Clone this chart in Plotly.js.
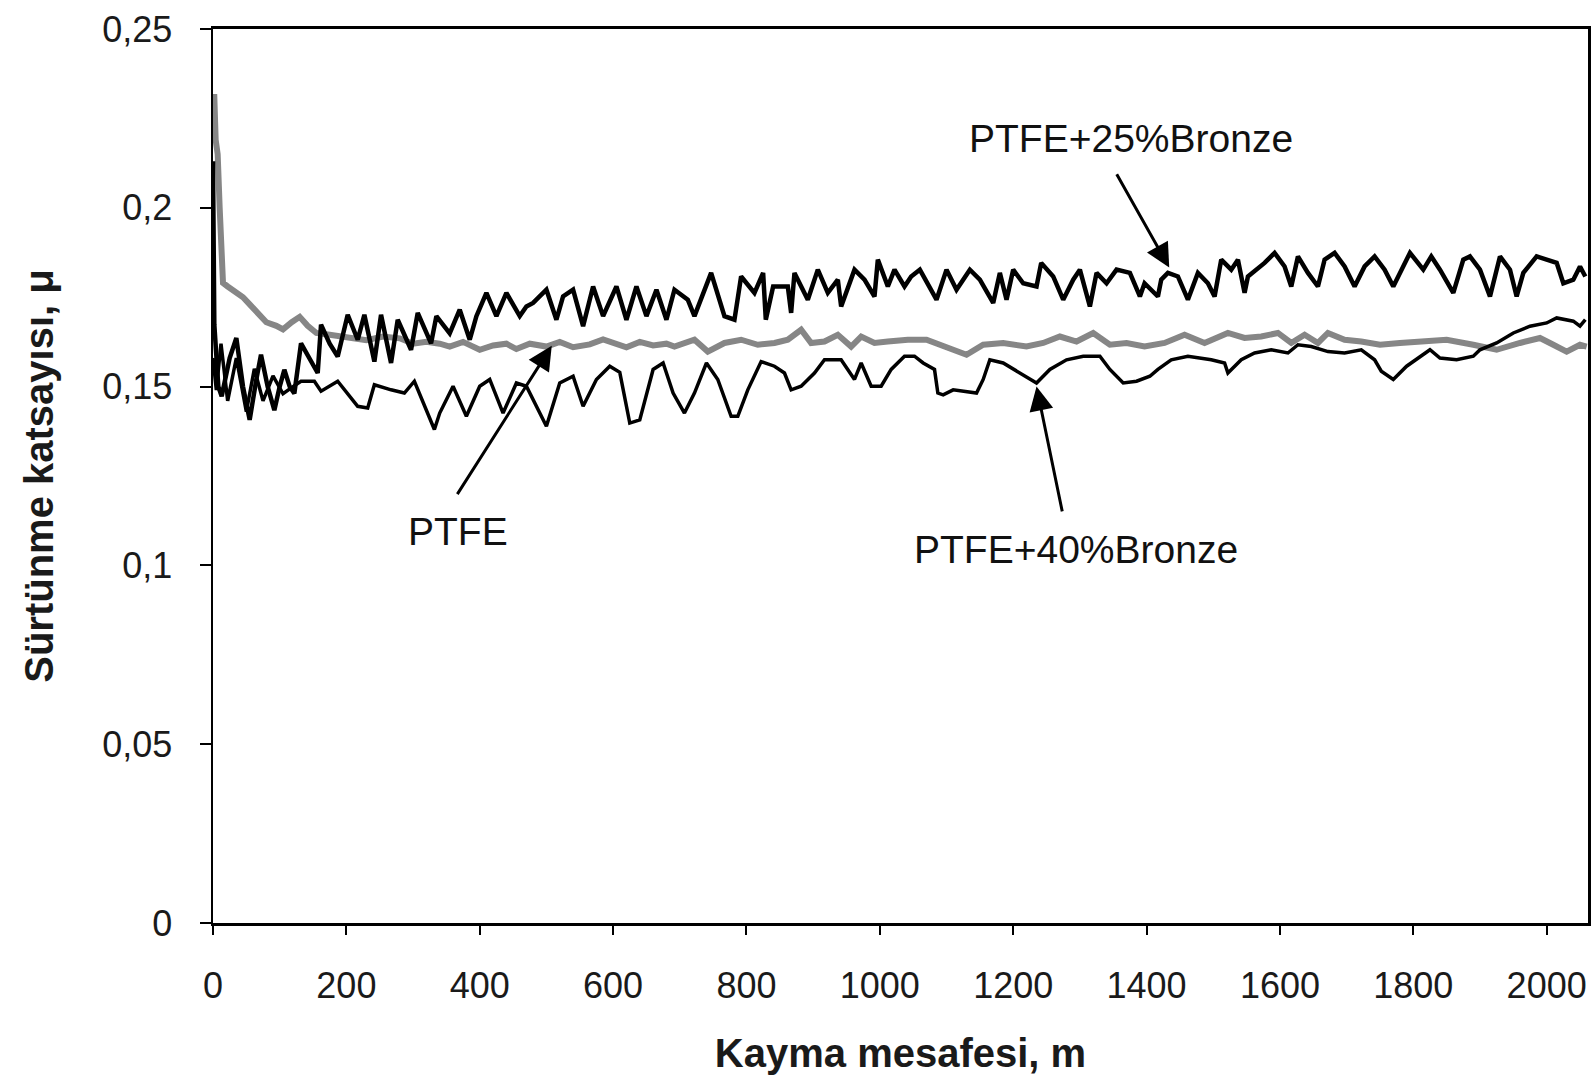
<!DOCTYPE html>
<html>
<head>
<meta charset="utf-8">
<script src="https://cdn.plot.ly/plotly-3.0.1.min.js"></script>
<style>html,body{margin:0;padding:0;background:#fff;}#chart{width:1594px;height:1081px;}</style>
</head>
<body>
<div id="chart"></div>
<script>
// ---- Data ----
const seriesNames = ["PTFE", "PTFE+25%Bronze", "PTFE+40%Bronze"];

const ptfeX = [0, 2, 4, 7, 10, 14, 15, 22, 30, 45,
  55, 65, 80, 95, 105, 118, 130, 142, 155, 175,
  205, 230, 255, 280, 300, 320, 340, 355, 375, 400,
  420, 440, 455, 475, 500, 520, 540, 565, 585, 600,
  620, 640, 660, 680, 692, 722, 742, 767, 792, 817,
  842, 862, 882, 897, 917, 937, 957, 972, 992, 1012,
  1042, 1070, 1095, 1130, 1155, 1185, 1220, 1245, 1270, 1295,
  1320, 1345, 1370, 1397, 1427, 1457, 1487, 1522, 1547, 1572,
  1597, 1617, 1637, 1657, 1672, 1697, 1722, 1750, 1780, 1810,
  1850, 1890, 1925, 1960, 1990, 2010, 2030, 2050, 2060];
const ptfeY = [0.231, 0.231, 0.219, 0.215, 0.200, 0.185, 0.179, 0.178, 0.177, 0.175,
  0.173, 0.171, 0.168, 0.167, 0.166, 0.168, 0.1695, 0.167, 0.165, 0.1645,
  0.1637, 0.163, 0.164, 0.1635, 0.162, 0.1625, 0.162, 0.1612, 0.1625, 0.1603,
  0.1615, 0.162, 0.1605, 0.162, 0.1612, 0.1625, 0.161, 0.1618, 0.1632, 0.1622,
  0.161, 0.1625, 0.1615, 0.162, 0.1612, 0.1631, 0.1598, 0.1622, 0.1631, 0.1617,
  0.1622, 0.1631, 0.1659, 0.1622, 0.1626, 0.1645, 0.1612, 0.164, 0.1622, 0.1626,
  0.1631, 0.1631, 0.1612, 0.1589, 0.1617, 0.1622, 0.1612, 0.1622, 0.164, 0.1626,
  0.165, 0.1617, 0.1622, 0.1612, 0.1622, 0.1645, 0.1622, 0.165, 0.1636, 0.164,
  0.165, 0.1622, 0.1645, 0.1622, 0.165, 0.1631, 0.1626, 0.1617, 0.1622, 0.1626,
  0.1631, 0.1617, 0.1603, 0.1622, 0.1636, 0.1617, 0.1598, 0.1617, 0.1612];

const b25X = [0, 2, 8, 13, 25, 35, 45, 55, 65, 72,
  82, 92, 100, 107, 115, 122, 132, 145, 157, 162,
  175, 187, 202, 217, 227, 242, 252, 267, 277, 297,
  307, 327, 335, 355, 370, 385, 395, 410, 425, 440,
  460, 470, 480, 500, 515, 525, 540, 555, 570, 585,
  605, 620, 635, 650, 665, 680, 692, 712, 722, 747,
  767, 782, 792, 812, 825, 829, 840, 862, 867, 872,
  892, 907, 922, 937, 942, 962, 977, 992, 997, 1012,
  1022, 1037, 1047, 1060, 1075, 1085, 1100, 1115, 1135, 1150,
  1170, 1180, 1190, 1200, 1215, 1235, 1242, 1260, 1275, 1290,
  1300, 1315, 1325, 1340, 1355, 1375, 1390, 1397, 1417, 1422,
  1432, 1447, 1462, 1477, 1492, 1502, 1512, 1527, 1537, 1547,
  1552, 1577, 1592, 1607, 1617, 1627, 1642, 1657, 1667, 1682,
  1697, 1712, 1727, 1742, 1757, 1770, 1795, 1815, 1827, 1840,
  1860, 1875, 1885, 1900, 1915, 1930, 1945, 1955, 1965, 1985,
  2000, 2015, 2025, 2040, 2050, 2058];
const b25Y = [0.213, 0.1673, 0.150, 0.1473, 0.158, 0.1636, 0.150, 0.1407, 0.152, 0.1589,
  0.150, 0.1434, 0.150, 0.1547, 0.150, 0.1481, 0.1621, 0.158, 0.1538, 0.1673,
  0.162, 0.1584, 0.1701, 0.1631, 0.1701, 0.157, 0.1701, 0.1566, 0.1687, 0.1603,
  0.1706, 0.1621, 0.1697, 0.1649, 0.1715, 0.1631, 0.1697, 0.1762, 0.1697, 0.1762,
  0.1697, 0.1724, 0.1734, 0.1771, 0.1687, 0.1752, 0.1771, 0.1669, 0.178, 0.1697,
  0.178, 0.1687, 0.178, 0.1697, 0.1771, 0.1687, 0.1771, 0.1743, 0.1697, 0.1818,
  0.1697, 0.1687, 0.1808, 0.1762, 0.1818, 0.1687, 0.178, 0.178, 0.1706, 0.1818,
  0.1743, 0.1827, 0.1762, 0.1799, 0.1724, 0.1827, 0.1799, 0.1752, 0.1855, 0.178,
  0.1827, 0.178, 0.1808, 0.1827, 0.178, 0.1743, 0.1827, 0.1771, 0.1827, 0.1799,
  0.1734, 0.1818, 0.1743, 0.1827, 0.1789, 0.178, 0.1846, 0.1808, 0.1743, 0.1799,
  0.1827, 0.1724, 0.1818, 0.1789, 0.1827, 0.1818, 0.1752, 0.1789, 0.1752, 0.1799,
  0.1818, 0.1808, 0.1743, 0.1818, 0.1789, 0.1752, 0.1855, 0.1827, 0.1855, 0.1762,
  0.1808, 0.1846, 0.1874, 0.1836, 0.178, 0.1864, 0.1818, 0.178, 0.1855, 0.1874,
  0.1836, 0.178, 0.1836, 0.1864, 0.1827, 0.178, 0.1874, 0.1827, 0.1864, 0.1827,
  0.1762, 0.1855, 0.1864, 0.1827, 0.1752, 0.1864, 0.1827, 0.1752, 0.1818, 0.1864,
  0.1855, 0.1846, 0.1789, 0.1799, 0.1836, 0.1808];

const b40X = [0, 5, 12, 22, 35, 50, 62, 75, 90, 105,
  120, 132, 152, 162, 187, 217, 232, 242, 267, 287,
  302, 332, 340, 360, 380, 400, 415, 435, 455, 470,
  500, 520, 540, 555, 575, 595, 610, 625, 640, 660,
  675, 690, 707, 722, 740, 757, 777, 787, 802, 822,
  842, 857, 867, 882, 902, 917, 942, 962, 972, 987,
  1002, 1017, 1037, 1052, 1065, 1082, 1087, 1095, 1110, 1145,
  1155, 1165, 1185, 1210, 1235, 1255, 1280, 1305, 1330, 1345,
  1365, 1385, 1405, 1417, 1437, 1462, 1497, 1517, 1522, 1542,
  1562, 1587, 1612, 1627, 1647, 1672, 1697, 1722, 1742, 1752,
  1770, 1790, 1810, 1825, 1840, 1865, 1890, 1900, 1925, 1950,
  1975, 2000, 2015, 2040, 2050, 2058];
const b40Y = [0.158, 0.149, 0.162, 0.146, 0.158, 0.143, 0.155, 0.146, 0.153, 0.148,
  0.150, 0.1515, 0.1515, 0.1487, 0.1515, 0.1445, 0.144, 0.1505, 0.1491, 0.1482,
  0.1515, 0.138, 0.1426, 0.1501, 0.1417, 0.1501, 0.152, 0.1426, 0.151, 0.1501,
  0.1389, 0.151, 0.1529, 0.1445, 0.152, 0.1557, 0.154, 0.1398, 0.1407, 0.1548,
  0.1566, 0.1482, 0.1426, 0.1482, 0.1566, 0.152, 0.1417, 0.1417, 0.1491, 0.157,
  0.1557, 0.1538, 0.1491, 0.1501, 0.1538, 0.1575, 0.1575, 0.152, 0.1566, 0.1501,
  0.1501, 0.1548, 0.1585, 0.1585, 0.1566, 0.1548, 0.1482, 0.1477, 0.1491, 0.1482,
  0.152, 0.1575, 0.1566, 0.1538, 0.151, 0.1548, 0.1575, 0.1585, 0.1585, 0.1548,
  0.151, 0.1515, 0.1529, 0.1548, 0.1575, 0.1585, 0.1575, 0.1566, 0.1538, 0.1575,
  0.1594, 0.1603, 0.1594, 0.1617, 0.1612, 0.1598, 0.1594, 0.1603, 0.1575, 0.1543,
  0.152, 0.1557, 0.1585, 0.1603, 0.158, 0.1575, 0.1585, 0.1603, 0.1622, 0.165,
  0.1669, 0.1678, 0.1692, 0.1683, 0.1669, 0.1687];

const xTickVals = [0, 200, 400, 600, 800, 1000, 1200, 1400, 1600, 1800, 2000];
const xTickText = ["0", "200", "400", "600", "800", "1000", "1200", "1400", "1600", "1800", "2000"];
const yTickVals = [0, 0.05, 0.1, 0.15, 0.2, 0.25];
const yTickText = ["0", "0,05", "0,1", "0,15", "0,2", "0,25"];

const xTitle = "Kayma mesafesi, m";
const yTitle = "Sürtünme katsayısı, μ";

// ---- Chart ----
const FONT = "Liberation Sans, Arial, Helvetica, sans-serif";

const traces = [
  {x: ptfeX, y: ptfeY, name: seriesNames[0], type: "scatter", mode: "lines",
   line: {color: "#868686", width: 6, shape: "linear"}},
  {x: b40X, y: b40Y, name: seriesNames[2], type: "scatter", mode: "lines",
   line: {color: "#000000", width: 3.5, shape: "linear"}},
  {x: b25X, y: b25Y, name: seriesNames[1], type: "scatter", mode: "lines",
   line: {color: "#000000", width: 4.5, shape: "linear"}}
];

const arrowStyle = {text: "", showarrow: true, arrowhead: 2, arrowsize: 1.6, arrowwidth: 3,
  arrowcolor: "#000", axref: "x", ayref: "y", xref: "x", yref: "y"};

const layout = {
  width: 1594, height: 1081,
  paper_bgcolor: "#fff", plot_bgcolor: "#fff",
  margin: {l: 213, r: 6, t: 29, b: 158},
  showlegend: false,
  font: {family: FONT, color: "#111"},
  xaxis: {
    range: [0, 2062], tickmode: "array", tickvals: xTickVals, ticktext: xTickText,
    ticks: "outside", ticklen: 9, tickwidth: 2, tickcolor: "#000",
    showline: true, linecolor: "#000", linewidth: 3, mirror: true,
    showgrid: false, zeroline: false,
    tickfont: {family: FONT, size: 36, color: "#1a1a1a"}, ticklabelstandoff: 20,
    title: {text: xTitle, font: {family: FONT, size: 40, color: "#1a1a1a", weight: "bold"}, standoff: 34}
  },
  yaxis: {
    range: [0, 0.25], tickmode: "array", tickvals: yTickVals, ticktext: yTickText,
    ticks: "outside", ticklen: 11, tickwidth: 2, tickcolor: "#000",
    showline: true, linecolor: "#000", linewidth: 2.5, mirror: true,
    showgrid: false, zeroline: false,
    tickfont: {family: FONT, size: 36, color: "#1a1a1a"}, ticklabelstandoff: 20,
    title: {text: yTitle, font: {family: FONT, size: 40, color: "#1a1a1a", weight: "bold"}, standoff: 36}
  },
  annotations: [
    {text: seriesNames[1], x: 1376, y: 0.2194, xref: "x", yref: "y", showarrow: false,
     font: {family: FONT, size: 39, color: "#111"}},
    {text: seriesNames[0], x: 367, y: 0.1094, xref: "x", yref: "y", showarrow: false,
     font: {family: FONT, size: 39, color: "#111"}},
    {text: seriesNames[2], x: 1294, y: 0.1044, xref: "x", yref: "y", showarrow: false,
     font: {family: FONT, size: 39, color: "#111"}},
    Object.assign({}, arrowStyle, {x: 1434, y: 0.1833, ax: 1354, ay: 0.2098}),
    Object.assign({}, arrowStyle, {x: 1235, y: 0.1500, ax: 1274, ay: 0.1147}),
    Object.assign({}, arrowStyle, {x: 508, y: 0.1614, ax: 365, ay: 0.1195})
  ]
};

Plotly.newPlot("chart", traces, layout, {displayModeBar: false, staticPlot: true});
</script>
</body>
</html>
